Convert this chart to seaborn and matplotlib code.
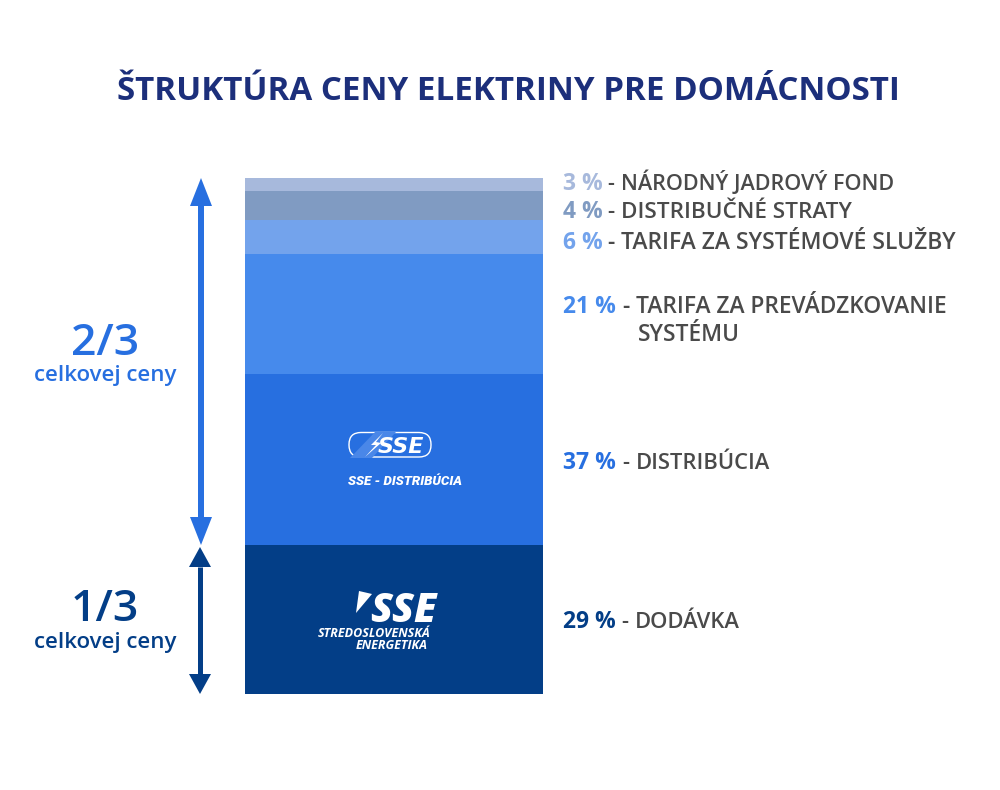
import matplotlib
matplotlib.use("Agg")
import matplotlib.pyplot as plt
import seaborn as sns
from matplotlib.patches import FancyBboxPatch, Polygon

# bottom to top, heights as drawn (the drawn bands are not to scale with the labels)
segments = ["DODÁVKA", "DISTRIBÚCIA", "TARIFA PREV", "TARIFA SLUZBY", "STRATY", "FOND"]
drawn_heights = [28.9, 33.1, 23.3, 6.6, 5.6, 2.5]
percent_labels = ["29 %", "37 %", "21 %", "6 %", "4 %", "3 %"]
name_labels = [
    "DODÁVKA",
    "DISTRIBÚCIA",
    "TARIFA ZA PREVÁDZKOVANIE",
    "TARIFA ZA SYSTÉMOVÉ SLUŽBY",
    "DISTRIBUČNÉ STRATY",
    "NÁRODNÝ JADROVÝ FOND",
]

# styling and layout
colors = ["#033e87", "#276fe0", "#468aec", "#73a3ec", "#809bc2", "#a7b9dc"]
label_y = [628, 469, 313, 249, 218, 190]
name_x = [635, 636, 636, 621, 621, 621]
label_size = [15.8, 15.8, 16.4, 16.5, 16.2, 15.6]
GREY = "#4a4a4a"

sns.set_theme(style="white")
plt.rcParams["font.family"] = ["Open Sans", "DejaVu Sans"]

fig = plt.figure(figsize=(10, 7.9), dpi=100, facecolor="white")

# stacked column, axes box sits on the column itself
ax = fig.add_axes([245 / 1000, 1 - 694 / 790, 298 / 1000, 516 / 790])
bottom = 0
for name, h, c in zip(segments, drawn_heights, colors):
    sns.barplot(x=[0], y=[h], bottom=bottom, color=c, width=1, saturation=1, linewidth=0, ax=ax)
    bottom += h
ax.set_xlim(-0.5, 0.5)
ax.set_ylim(0, bottom)
ax.axis("off")

# everything else is placed in pixel coordinates
ov = fig.add_axes([0, 0, 1, 1], zorder=5)
ov.set_xlim(0, 1000)
ov.set_ylim(790, 0)
ov.axis("off")
ov.patch.set_alpha(0)

ov.text(508, 100, "ŠTRUKTÚRA CENY ELEKTRINY PRE DOMÁCNOSTI", color="#1c2f7b", fontsize=23.9,
        fontweight=700, ha="center", va="baseline")

for pct, name, y, nx, c, s in zip(percent_labels, name_labels, label_y, name_x, colors, label_size):
    ov.text(563, y, pct, color=c, fontsize=16.5, fontweight=700, ha="left", va="baseline")
    ov.text(nx - 14, y, "-", color=GREY, fontsize=s, fontweight=600, ha="left", va="baseline")
    ov.text(nx, y, name, color=GREY, fontsize=s, fontweight=600, ha="left", va="baseline")
ov.text(638, 341, "SYSTÉMU", color=GREY, fontsize=16.4, fontweight=600, ha="left", va="baseline")

# left side
ov.text(105, 355, "2/3", color=colors[1], fontsize=32, fontweight=600, ha="center", va="baseline")
ov.text(105, 381, "celkovej ceny", color=colors[1], fontsize=16, fontweight=600, ha="center", va="baseline")
ov.text(105, 621, "1/3", color=colors[0], fontsize=32, fontweight=600, ha="center", va="baseline")
ov.text(105, 648, "celkovej ceny", color=colors[0], fontsize=16, fontweight=600, ha="center", va="baseline")


def double_arrow(x, top, bot, head_w, head_h, shaft, c):
    ov.plot([x, x], [top + head_h, bot - head_h], color=c, lw=shaft * 0.72, solid_capstyle="butt")
    ov.add_patch(Polygon([[x, top], [x - head_w / 2, top + head_h], [x + head_w / 2, top + head_h]], fc=c, ec="none"))
    ov.add_patch(Polygon([[x, bot], [x - head_w / 2, bot - head_h], [x + head_w / 2, bot - head_h]], fc=c, ec="none"))


double_arrow(201, 178, 545, 22, 28, 6, colors[1])
double_arrow(200, 547, 694, 22, 20, 5, colors[0])

# SSE - Distribúcia logo
ov.add_patch(FancyBboxPatch((349, 432.5), 82, 24.5, boxstyle="round,pad=0,rounding_size=12",
                            fc="none", ec="white", lw=1))
ov.add_patch(Polygon([[350, 458], [375, 432], [396, 432], [372, 458]], fc="#4a87e8", ec="none"))
ov.add_patch(Polygon([[383, 433], [371, 445], [376, 445], [365, 457], [381, 443], [376, 442]], fc="white", ec="none"))
ov.text(401, 453, "SSE", color="white", fontsize=16, fontweight="bold", fontstyle="oblique",
        family="DejaVu Sans", ha="center", va="baseline")
ov.text(404.5, 485, "SSE - DISTRIBÚCIA", color="white", fontsize=9.5, fontweight=900, fontstyle="italic",
        family="Roboto", ha="center", va="baseline")

# Stredoslovenská energetika logo
ov.add_patch(Polygon([[359, 591], [372, 594], [356, 613]], fc="white", ec="none"))
ov.text(403, 622, "SSE", color="white", fontsize=29, fontweight=800, fontstyle="italic", ha="center", va="baseline")
ov.text(431, 637, "STREDOSLOVENSKÁ", color="white", fontsize=9, fontweight=700, fontstyle="italic",
        ha="right", va="baseline")
ov.text(428, 649, "ENERGETIKA", color="white", fontsize=9, fontweight=700, fontstyle="italic",
        ha="right", va="baseline")

fig.savefig("out.png", dpi=100)
